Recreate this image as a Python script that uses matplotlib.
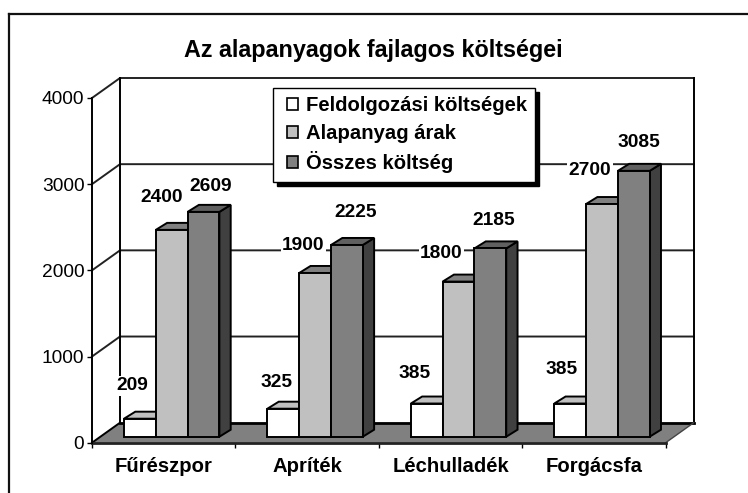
import matplotlib
matplotlib.use('Agg')
import matplotlib.pyplot as plt
from matplotlib.legend_handler import HandlerPatch
from matplotlib.lines import Line2D
from matplotlib.patches import Patch, Polygon, Rectangle

plt.rcParams['font.family'] = ['Liberation Sans', 'DejaVu Sans']

title = 'Az alapanyagok fajlagos költségei'
categories = ['Fűrészpor', 'Apríték', 'Léchulladék', 'Forgácsfa']
series_names = ['Feldolgozási költségek', 'Alapanyag árak', 'Összes költség']
processing = [209, 325, 385, 385]
material = [2400, 1900, 1800, 2700]
total = [2609, 2225, 2185, 3085]
y_ticks = [0, 1000, 2000, 3000, 4000]

# label offsets from bar top centre, in pixels (right, up)
label_offsets = [
    [(-8, 33), (-10, 32.4), (7.5, 25.3)],
    [(-7, 26.2), (-12, 27.5), (9, 32.5)],
    [(-12, 30), (-17, 28), (3, 28)],
    [(-9, 34), (-12, 33.5), (5, 28.3)],
]

W, H = 748, 493
AX_L, AX_R, AX_B, AX_T = 92, 665.7, 442.7, 98
DPI = 100

fig = plt.figure(figsize=(W / DPI, H / DPI), dpi=DPI, facecolor='white')
ax = fig.add_axes([AX_L / W, 1 - AX_B / H, (AX_R - AX_L) / W, (AX_B - AX_T) / H])
ax.set_xlim(0, 4)
ax.set_ylim(0, 4000)
ax.patch.set_visible(False)

px_x = 4 / (AX_R - AX_L)
px_y = 4000 / (AX_B - AX_T)
wall_dx, wall_dy = 28 * px_x, 20 * px_y
bar_dx, bar_dy = 11.3 * px_x, 7 * px_y
bar_left = 32 * px_x
bar_base = 6 * px_y
bar_w = 31.8 * px_x
LW = 1.4

# floor
ax.add_patch(Polygon([(0, 0), (wall_dx, wall_dy), (4 + wall_dx, wall_dy), (4, 0)],
                     fc='#808080', ec='none', clip_on=False, zorder=1))

# walls and gridlines
for v in y_ticks[1:]:
    ax.plot([0, wall_dx, 4 + wall_dx], [v, v + wall_dy, v + wall_dy], color='#222222',
            lw=LW, clip_on=False, zorder=2, solid_joinstyle='miter')
ax.plot([0, wall_dx], [0, wall_dy], color='black', lw=LW, clip_on=False, zorder=2)
ax.plot([wall_dx, 4 + wall_dx], [wall_dy, wall_dy], color='black', lw=2, clip_on=False, zorder=2)
ax.plot([wall_dx, wall_dx], [wall_dy, 4000 + wall_dy], color='black', lw=LW, clip_on=False, zorder=2)
ax.plot([4 + wall_dx, 4 + wall_dx], [wall_dy, 4000 + wall_dy], color='black', lw=LW, clip_on=False, zorder=2)
ax.plot([4, 4 + wall_dx], [0, wall_dy], color='#444444', lw=1, clip_on=False, zorder=2)

# bars
series = [processing, material, total]
front_colors = ['white', '#c0c0c0', '#808080']
top_colors = ['#c0c0c0', '#808080', '#606060']
side_color = '#404040'
z = 3
for i in range(len(categories)):
    for j, values in enumerate(series):
        x0 = i + bar_left + j * bar_w
        x1 = x0 + bar_w
        top = bar_base + values[i]
        ax.add_patch(Polygon([(x1, bar_base), (x1 + bar_dx, bar_base + bar_dy),
                              (x1 + bar_dx, top + bar_dy), (x1, top)],
                             fc=side_color, ec='black', lw=LW, clip_on=False, zorder=z))
        ax.add_patch(Polygon([(x0, top), (x0 + bar_dx, top + bar_dy),
                              (x1 + bar_dx, top + bar_dy), (x1, top)],
                             fc=top_colors[j], ec='black', lw=LW, clip_on=False, zorder=z))
        ax.bar(x0, values[i], width=bar_w, bottom=bar_base, align='edge',
               color=front_colors[j], edgecolor='black', linewidth=LW, clip_on=False, zorder=z + 0.5)
        z += 1

# value labels
for i in range(len(categories)):
    for j, values in enumerate(series):
        dx, dy = label_offsets[i][j]
        cx = i + bar_left + (j + 0.5) * bar_w
        ax.annotate(str(values[i]), (cx, bar_base + values[i]), xytext=(dx * 0.72, dy * 0.72),
                    textcoords='offset points', ha='center', va='center', fontsize=13.8,
                    fontweight='bold', color='black', zorder=40, annotation_clip=False,
                    bbox=dict(fc='white', ec='none', pad=1))

# axes
for name in ['top', 'right']:
    ax.spines[name].set_visible(False)
ax.spines['left'].set_linewidth(LW)
ax.spines['bottom'].set_linewidth(2)
ax.spines['bottom'].set_color('#222222')
ax.spines['bottom'].set_zorder(2)
ax.set_yticks(y_ticks)
ax.set_xticks(range(5))
ax.set_xticklabels([])
ax.set_xticks([i + 0.5 for i in range(4)], categories, minor=True)
ax.tick_params(axis='y', length=3.5, width=1, pad=2, labelsize=13.8, direction='out')
ax.tick_params(axis='x', which='major', length=3.5, width=1, direction='out')
ax.tick_params(axis='x', which='minor', length=0, pad=10, labelsize=14.6)
for lab in ax.get_xticklabels(minor=True):
    lab.set_fontweight('bold')

fig.text(373.5 / W, 1 - 51 / H, title, ha='center', va='center', fontsize=16.8, fontweight='bold')


def square_handle(legend, orig_handle, xdescent, ydescent, width, height, fontsize):
    s = 8.6
    return Rectangle((width - s - xdescent, (height - s) / 2 - ydescent), s, s)


# legend
handles = [Patch(fc=c, ec='black', lw=1.2) for c in front_colors]
leg = ax.legend(handles, series_names, loc='upper left',
                bbox_to_anchor=(272.7 / W, 1 - 87.7 / H), bbox_transform=fig.transFigure,
                prop={'weight': 'bold', 'size': 14.6}, fancybox=False, framealpha=1,
                edgecolor='black', facecolor='white', borderaxespad=0, handlelength=0.85,
                handleheight=0.7, handletextpad=0.35, labelspacing=0.42, borderpad=0.42,
                handler_map={Patch: HandlerPatch(patch_func=square_handle)},
                shadow={'ox': 3, 'oy': -3, 'color': 'black', 'alpha': 1})
leg.set_zorder(50)
leg.get_frame().set_linewidth(1)

# outer frame, runs off the right and bottom of the image
fig.add_artist(Line2D([9 / W, 9 / W], [0, 1 - 14 / H], color='#111111', lw=1.6))
fig.add_artist(Line2D([9 / W, 1], [1 - 14 / H, 1 - 14 / H], color='#111111', lw=1.6))

fig.savefig('out.png', dpi=DPI)
